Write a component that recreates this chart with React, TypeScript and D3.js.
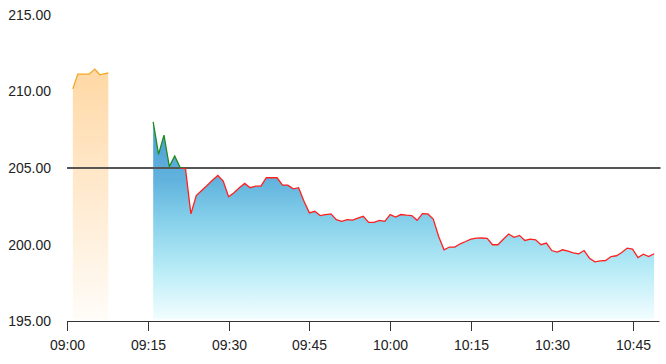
import React from "react";
import * as d3 from "d3";

const yTicks = [195, 200, 205, 210, 215];
const xTickLabels = ["09:00", "09:15", "09:30", "09:45", "10:00", "10:15", "10:30", "10:45"];
const refPrice = 205;

const preTimes = ["09:01:05", "09:02:00", "09:04:05", "09:05:10", "09:06:05", "09:07:40"];
const preValues = [210.16, 211.12, 211.12, 211.45, 211.08, 211.21];

const mainStart = "09:16";
const mainValues = [
  208.01, 205.89, 207.14, 205.09, 205.78, 205.02, 204.95, 202.0, 203.2, 203.53,
  203.85, 204.2, 204.51, 204.14, 203.12, 203.38, 203.71, 203.99, 203.71, 203.81,
  203.81, 204.36, 204.36, 204.36, 203.88, 203.88, 203.64, 203.71, 202.83, 202.07,
  202.17, 201.89, 201.95, 202.0, 201.63, 201.52, 201.63, 201.6, 201.72, 201.84,
  201.45, 201.45, 201.58, 201.52, 201.96, 201.8, 201.96, 201.92, 201.89, 201.58,
  202.02, 202.0, 201.67, 200.53, 199.66, 199.84, 199.84, 200.05, 200.2, 200.36,
  200.42, 200.43, 200.4, 199.99, 199.99, 200.35, 200.69, 200.47, 200.6, 200.27,
  200.36, 200.31, 199.99, 200.1, 199.61, 199.51, 199.66, 199.57, 199.46, 199.4,
  199.61, 199.11, 198.87, 198.94, 198.96, 199.22, 199.27, 199.48, 199.77, 199.7,
  199.15, 199.37, 199.22, 199.4,
];

const parseT = (s: string) => {
  const p = s.split(":").map(Number);
  return new Date(2024, 0, 2, p[0], p[1], p[2] || 0);
};

export default function App() {
  const W = 666, H = 364;
  const x = d3.scaleTime().domain([parseT("09:00"), parseT("10:50")]).range([67, 659.5]);
  const y = d3.scaleLinear().domain([195, 215]).range([321.2, 14.7]);

  const pre = preTimes.map((t, i) => ({ t: parseT(t), v: preValues[i] }));
  const s0 = parseT(mainStart);
  const main = mainValues.map((v, i) => ({ t: d3.timeMinute.offset(s0, i), v }));

  const bottom = y(195) - 2;
  const area = d3.area<{ t: Date; v: number }>().x(d => x(d.t)).y0(bottom).y1(d => y(d.v));
  const line = d3.line<{ t: Date; v: number }>().x(d => x(d.t)).y(d => y(d.v));
  const yRef = y(refPrice);

  return (
    <svg width={W} height={H} style={{ position: "absolute", left: 0, top: 0 }} fontFamily="'Liberation Sans', Arial, sans-serif">
      <defs>
        <linearGradient id="gOrange" gradientUnits="userSpaceOnUse" x1="0" x2="0" y1={y(211.5)} y2={bottom}>
          <stop offset="0" stopColor="#ffd8a4" />
          <stop offset="0.5" stopColor="#ffeacf" />
          <stop offset="1" stopColor="#fffcf8" />
        </linearGradient>
        <linearGradient id="gBlue" gradientUnits="userSpaceOnUse" x1="0" x2="0" y1={y(208)} y2={bottom}>
          <stop offset="0" stopColor="#4a9ad2" />
          <stop offset="0.3" stopColor="#62b4de" />
          <stop offset="0.5" stopColor="#86d0ea" />
          <stop offset="0.75" stopColor="#b8ecf7" />
          <stop offset="1" stopColor="#f2fdff" />
        </linearGradient>
        <clipPath id="above"><rect x={0} y={0} width={W} height={yRef} /></clipPath>
        <clipPath id="below"><rect x={0} y={yRef} width={W} height={H - yRef} /></clipPath>
      </defs>

      <path d={area(pre) || ""} fill="url(#gOrange)" />
      <path d={area(main) || ""} fill="url(#gBlue)" />

      <line x1={67} x2={660.5} y1={yRef} y2={yRef} stroke="#555" strokeWidth={2} />

      <path d={line(pre) || ""} fill="none" stroke="#f5a623" strokeWidth={1.3} />
      <path d={line(main) || ""} fill="none" stroke="#1e8c1e" strokeWidth={1.3} clipPath="url(#above)" />
      <path d={line(main) || ""} fill="none" stroke="#ff2020" strokeWidth={1.3} clipPath="url(#below)" />

      {yTicks.map(v => (
        <text key={v} x={51} y={y(v)} textAnchor="end" dominantBaseline="central" fontSize={14} fill="#222">
          {v.toFixed(2)}
        </text>
      ))}

      <line x1={67} x2={659.5} y1={321.5} y2={321.5} stroke="#333" strokeWidth={1} />
      {xTickLabels.map(l => {
        const xx = Math.round(x(parseT(l))) + 0.5;
        return (
          <g key={l}>
            <line x1={xx} x2={xx} y1={321.5} y2={331} stroke="#333" strokeWidth={1} />
            <text x={xx} y={345} textAnchor="middle" dominantBaseline="central" fontSize={14} fill="#222">{l}</text>
          </g>
        );
      })}
    </svg>
  );
}
